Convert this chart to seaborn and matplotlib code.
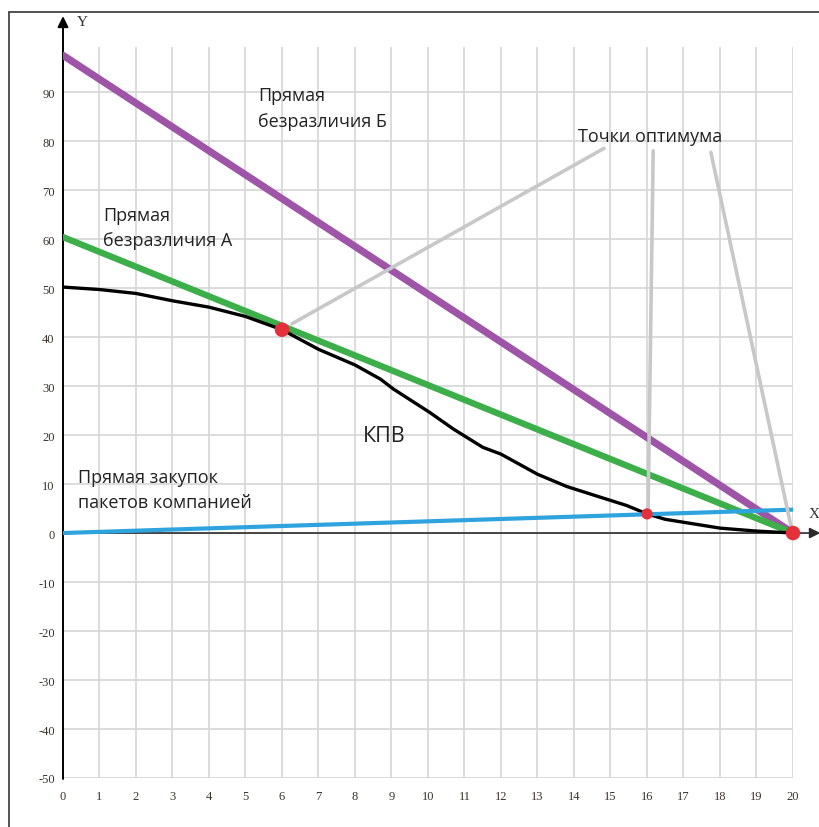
import numpy as np
import pandas as pd
import matplotlib
matplotlib.use("Agg")
import matplotlib.pyplot as plt
from matplotlib.lines import Line2D
import seaborn as sns

# ---- data ----
kpv_x = [0, 1, 2, 3, 4, 5, 6, 7, 8, 8.7, 9.05, 10.05, 10.7, 11.5, 12.0, 13.0, 13.8, 14.6, 15.45, 16.0, 16.5, 17.0, 18.0, 19.0, 20.0]
kpv_y = [50.2, 49.7, 48.9, 47.4, 46.1, 44.2, 41.5, 37.5, 34.3, 31.4, 29.4, 24.6, 21.2, 17.5, 16.1, 12.0, 9.5, 7.6, 5.6, 3.9, 2.8, 2.2, 1.0, 0.4, 0.0]

line_b_x = [0, 20]
line_b_y = [97.5, 0]

line_a_x = [0, 20]
line_a_y = [60.4, 0]

buy_x = [0, 20.1]
buy_y = [0, 4.8]

opt_x = [6.0, 16.0, 20.0]
opt_y = [41.5, 3.9, 0.0]

# pointer lines from label "Точки оптимума" to the optimum points
ptr_x = [[14.82, 6.27], [16.17, 16.03], [17.75, 19.95]]
ptr_y = [[78.5, 42.7], [78.0, 4.9], [77.7, 1.2]]

x_ticks = list(range(0, 21))
y_ticks = list(range(-50, 91, 10))

# ---- figure ----
sns.set_style("white")
plt.rcParams['font.family'] = ['Open Sans', 'DejaVu Sans']

W, H = 820, 828
fig = plt.figure(figsize=(W / 100, H / 100), dpi=100)
ax = fig.add_axes([63 / W, 1 - 779 / H, (793 - 63) / W, (779 - 48) / H])
ax.set_xlim(0, 20)
ax.set_ylim(-50, 99.2)

grid_c = "#d9d9d9"
for xv in x_ticks:
    ax.axvline(xv, color=grid_c, lw=1.3, zorder=0)
for yv in y_ticks:
    ax.axhline(yv, color=grid_c, lw=1.3, zorder=0)

for s in ax.spines.values():
    s.set_visible(False)

ax.set_xticks(x_ticks)
ax.set_yticks(y_ticks)
tick_font = dict(family='Liberation Serif', size=9, color='#3a332c')
ax.set_xticklabels([str(v) for v in x_ticks], **tick_font)
ax.set_yticklabels([str(v) for v in y_ticks], **tick_font)
ax.tick_params(axis='both', length=0)
ax.tick_params(axis='x', pad=9)
ax.tick_params(axis='y', pad=6)

# axes with arrows
ax.annotate('', xy=(0, 105.5), xytext=(0, -50.2), annotation_clip=False,
            arrowprops=dict(arrowstyle='-|>', color='black', lw=1.4,
                            mutation_scale=16, shrinkA=0, shrinkB=0))
ax.annotate('', xy=(20.75, 0), xytext=(0, 0), annotation_clip=False,
            arrowprops=dict(arrowstyle='-|>', color='#2b2b2b', lw=1.2,
                            mutation_scale=16, shrinkA=0, shrinkB=0))
ax.text(0.52, 104.5, 'Y', family='Liberation Serif', fontsize=11, color='#333',
        ha='center', va='center', clip_on=False)
ax.text(20.42, 3.9, 'X', family='Liberation Serif', fontsize=11, color='#333',
        ha='left', va='center', clip_on=False)

# lines
sns.lineplot(x=line_b_x, y=line_b_y, ax=ax, color='#9e55a8', lw=5.2, zorder=3)
sns.lineplot(x=line_a_x, y=line_a_y, ax=ax, color='#3daf4a', lw=4.6, zorder=3)
sns.lineplot(x=kpv_x, y=kpv_y, ax=ax, color='black', lw=2.4, zorder=4,
             sort=False, estimator=None)
sns.lineplot(x=buy_x, y=buy_y, ax=ax, color='#2ea3de', lw=3.0, zorder=4)

for px, py in zip(ptr_x, ptr_y):
    sns.lineplot(x=px, y=py, ax=ax, color='#c8c8c8', lw=2.6, zorder=5,
                 sort=False, estimator=None)

sns.scatterplot(x=opt_x, y=opt_y, ax=ax, color='#e3303a',
                size=[110, 65, 110], sizes=(65, 110), legend=False,
                edgecolor='none', zorder=6, clip_on=False)

# labels
tc = '#222222'
fs = 13
ax.text(5.34, 88.4, 'Прямая', fontsize=fs, color=tc, va='baseline')
ax.text(5.34, 83.1, 'безразличия Б', fontsize=fs, color=tc, va='baseline')
ax.text(14.11, 80.1, 'Точки оптимума', fontsize=fs, color=tc, va='baseline')
ax.text(1.10, 63.9, 'Прямая', fontsize=fs, color=tc, va='baseline')
ax.text(1.10, 58.8, 'безразличия А', fontsize=fs, color=tc, va='baseline')
ax.text(8.22, 18.8, 'КПВ', fontsize=15.5, color=tc, va='baseline')
ax.text(0.41, 10.4, 'Прямая закупок', fontsize=fs, color=tc, va='baseline')
ax.text(0.41, 5.3, 'пакетов компанией', fontsize=fs, color=tc, va='baseline')

# outer frame of the picture
frame_c = '#444444'
fig.add_artist(Line2D([9 / W, 9 / W], [0, 1 - 13 / H], transform=fig.transFigure,
                      color=frame_c, lw=1.3))
fig.add_artist(Line2D([9 / W, 1], [1 - 13 / H, 1 - 13 / H], transform=fig.transFigure,
                      color=frame_c, lw=1.3))

ax.set_xlabel('')
ax.set_ylabel('')
fig.savefig('out.png', dpi=100)
